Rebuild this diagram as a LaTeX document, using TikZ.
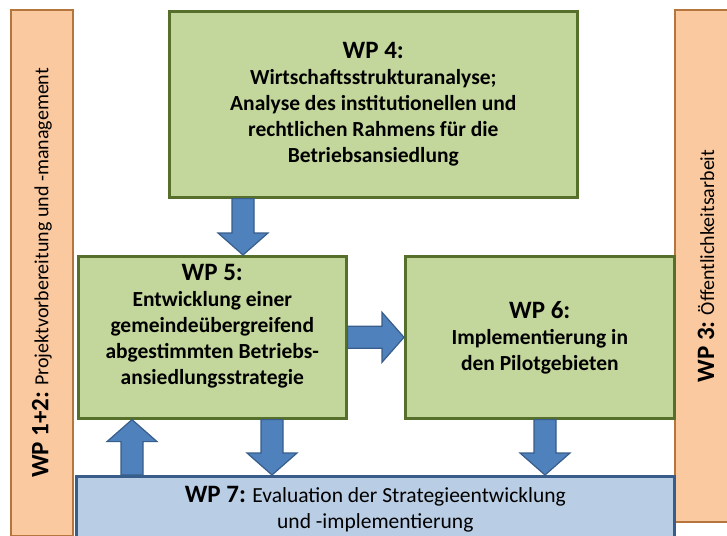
\documentclass[tikz,border=0pt]{standalone}
\usepackage{fontspec}
\setmainfont{Carlito}
\usetikzlibrary{calc}

\definecolor{wpgreen}{HTML}{C3D69B}
\definecolor{wpgreenline}{HTML}{56702C}
\definecolor{wporange}{HTML}{FAC9A0}
\definecolor{wporangeline}{HTML}{B5763D}
\definecolor{wpblue}{HTML}{B9CDE5}
\definecolor{wpblueline}{HTML}{385D8A}
\definecolor{arrowblue}{HTML}{4F81BD}

\newcommand{\wptext}{\fontsize{21.5}{26}\selectfont}
\newcommand{\bartext}{\fontsize{20}{26}\selectfont}
\newcommand{\wphead}[1]{{\fontsize{25}{26}\selectfont\bfseries #1}}
% block arrow from #1 to #2 (coordinates with parentheses)
\newcommand{\wparrow}[2]{%
	\path #1 coordinate (fa-s) #2 coordinate (fa-t);
	\path ($(fa-t)!22pt!(fa-s)$) coordinate (fa-h);
	\draw[fatarrow] ($(fa-s)!11pt!90:(fa-t)$) -- ($(fa-h)!11pt!90:(fa-t)$) -- ($(fa-h)!25pt!90:(fa-t)$) -- (fa-t) -- ($(fa-h)!25pt!-90:(fa-t)$) -- ($(fa-h)!11pt!-90:(fa-t)$) -- ($(fa-s)!11pt!-90:(fa-t)$) -- cycle;}

\tikzset{
	wpbox/.style={draw=wpgreenline, fill=wpgreen, line width=2.6pt, align=center, anchor=north west, inner sep=0pt, font=\wptext\bfseries},
	evalbox/.style={draw=wpblueline, fill=wpblue, line width=2.6pt, align=center, anchor=north west, inner sep=0pt, font=\wptext},
	sidebar/.style={draw=wporangeline, fill=wporange, line width=2.6pt, rotate=90, inner sep=0pt, minimum height=62pt, font=\bartext},
	fatarrow/.style={draw=wpblueline, fill=arrowblue, line width=1.2pt, line join=miter}
}

\begin{document}
\begin{tikzpicture}[x=1pt, y=-1pt]
			%%%%% START %%%%%
			\useasboundingbox (0,0) rectangle (727,535);
			\clip (0,0) rectangle (727,535);
			
			\node[sidebar, minimum width=526pt] (wp12) at (42,273) {\wphead{WP 1+2:} Projektvorbereitung und -management};
			\node[sidebar, minimum width=512pt] (wp3) at (706,266) {\wphead{WP 3:} Öffentlichkeitsarbeit};
			
			\node[wpbox, minimum width=408pt, minimum height=186pt] (wp4) at (168,10) {\wphead{WP 4:}\\ Wirtschaftsstrukturanalyse;\\ Analyse des institutionellen und\\ rechtlichen Rahmens für die\\ Betriebsansiedlung};
			\node[wpbox, minimum width=268pt, minimum height=162pt] (wp5) at (77,255) {\wphead{WP 5:}\\ Entwicklung einer\\ gemeindeübergreifend\\ abgestimmten Betriebs-\\ ansiedlungsstrategie\\ \mbox{}};
			\node[wpbox, minimum width=269pt, minimum height=162pt] (wp6) at (404,255) {\wphead{WP 6:}\\ Implementierung in\\ den Pilotgebieten};
			
			\node[evalbox, minimum width=598pt, minimum height=66pt] (wp7) at (75,475) {\wphead{WP 7:} Evaluation der Strategieentwicklung\\ und -implementierung};
			
			\wparrow{($(wp4.south west)+(75,0)$)}{($(wp5.north west)+(166,0)$)}
			\wparrow{(wp5.east)}{(wp6.west)}
			\wparrow{($(wp7.north west)+(57,0)$)}{($(wp5.south west)+(55,0)$)}
			\wparrow{($(wp5.south west)+(195,0)$)}{($(wp7.north west)+(197,0)$)}
			\wparrow{($(wp6.south west)+(141,0)$)}{($(wp7.north west)+(470,0)$)}
			
			%%%%% END %%%%%
\end{tikzpicture}
\end{document}
